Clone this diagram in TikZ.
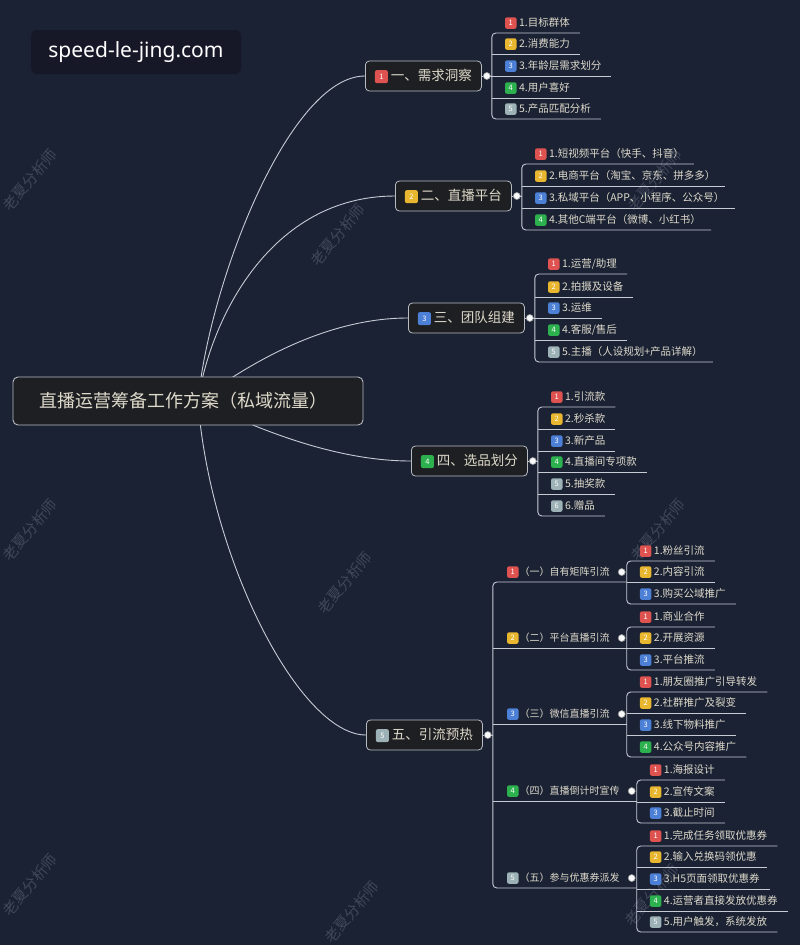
\documentclass[tikz,border=0pt]{standalone}
\usepackage{fontspec}
\setmainfont{Noto Sans CJK SC}
\newfontfamily\urlfont{Noto Sans}
\usetikzlibrary{positioning, calc}
\pgfdeclarelayer{bg}
\pgfsetlayers{bg,main}
\definecolor{navy}{HTML}{1B2234}
\definecolor{boxfill}{HTML}{1E1F22}
\definecolor{boxline}{HTML}{B7BCC4}
\definecolor{ink}{HTML}{DEDACB}
\definecolor{linkgray}{HTML}{C6CBD4}
\definecolor{urlbox}{HTML}{161828}
\definecolor{wmark}{HTML}{3F4759}
\definecolor{tagred}{HTML}{DE5350}
\definecolor{tagyel}{HTML}{E8B62F}
\definecolor{tagblu}{HTML}{4C80D6}
\definecolor{taggrn}{HTML}{2DB14E}
\definecolor{taggry}{HTML}{9DB2B6}

\tikzset{
  numtag/.style={fill=#1, rounded corners=2pt, inner sep=0pt, text=white,
                 font=\fontsize{7.5}{7.5}\selectfont},
  link/.style={draw=linkgray, line width=0.9pt},
  rootbox/.style={fill=boxfill, draw=boxline, line width=0.9pt, rounded corners=5pt,
                  text=ink, font=\fontsize{18}{20}\selectfont,
                  minimum width=350pt, minimum height=48pt},
  topicbox/.style={fill=boxfill, draw=boxline, line width=0.8pt, rounded corners=4pt,
                   text=ink, font=\fontsize{13.5}{15}\selectfont, anchor=west,
                   minimum height=30pt, inner xsep=9.5pt},
  leaf/.style={anchor=south west, text=ink, inner xsep=0pt, inner ysep=4pt,
               font=\fontsize{10.5}{12}\selectfont},
  subtopic/.style={leaf, font=\fontsize{10}{12}\selectfont},
  knob/.style={circle, fill=white!88!linkgray, draw=gray!80, line width=0.6pt,
               minimum size=7pt, inner sep=0pt},
  wmk/.style={text=wmark, rotate=50, font=\fontsize{15}{15}\selectfont}
}
\newcommand{\numtag}[3][11.5pt]{\tikz[baseline={([yshift=-3.6pt]t.center)}]
  \node[numtag=#2, minimum size=#1] (t) {#3};}
% leaf text: tag colour, number, text
\newcommand{\leafitem}[3]{\hspace*{13pt}\numtag{#1}{#2}\hspace{2.5pt}#3\hspace*{10pt}}
\newcommand{\branchitem}[3]{\hspace*{14pt}\numtag{#1}{#2}\hspace{1pt}#3\hspace*{17pt}}

\begin{document}
\begin{tikzpicture}[x=1pt, y=-1pt]
\useasboundingbox (0,0) rectangle (800,945);

% Site label
\node[fill=urlbox, rounded corners=6pt, minimum width=210pt, minimum height=44pt,
      font=\urlfont\fontsize{21}{21}\selectfont, text=white] (site) at (136,52) {speed-le-jing.com};

% Root
\node[rootbox] (root) at (188,401) {直播运营筹备工作方案（私域流量）\hspace*{10pt}};

% Main topics
\node[topicbox] (t1) at (365,76) {\numtag[13pt]{tagred}{1} 一、需求洞察};
\node[topicbox] (t2) at (395,196) {\numtag[13pt]{tagyel}{2} 二、直播平台};
\node[topicbox] (t3) at (408,318) {\numtag[13pt]{tagblu}{3} 三、团队组建};
\node[topicbox] (t4) at (411,461) {\numtag[13pt]{taggrn}{4} 四、选品划分};
\node[topicbox] (t5) at (366,735) {\numtag[13pt]{taggry}{5} 五、引流预热};

% Topic 1 leaves
\coordinate (v1) at ([xshift=10pt]t1.east);
\node[leaf] (a1) at (v1 |- 0,33) {\leafitem{tagred}{1}{1.目标群体}};
\node[leaf] (a2) at (v1 |- 0,54) {\leafitem{tagyel}{2}{2.消费能力}};
\node[leaf] (a3) at (v1 |- 0,76) {\leafitem{tagblu}{3}{3.年龄层需求划分}};
\node[leaf] (a4) at (v1 |- 0,98) {\leafitem{taggrn}{4}{4.用户喜好}};
\node[leaf] (a5) at (v1 |- 0,119) {\leafitem{taggry}{5}{5.产品匹配分析}};
\draw[link, rounded corners=4pt] (a1.south east) -- (a1.south west) -- (a5.south west) -- (a5.south east);
\draw[link] (a2.south west) -- (a2.south east) (a3.south west) -- (a3.south east)
  (a4.south west) -- (a4.south east);
\draw[link] (t1.east) -- (v1);
\node[knob] (k1) at ([xshift=5pt]t1.east) {};

% Topic 2 leaves
\coordinate (v2) at ([xshift=10pt]t2.east);
\node[leaf] (b1) at (v2 |- 0,164) {\leafitem{tagred}{1}{1.短视频平台（快手、抖音）}};
\node[leaf] (b2) at (v2 |- 0,186) {\leafitem{tagyel}{2}{2.电商平台（淘宝、京东、拼多多）}};
\node[leaf] (b3) at (v2 |- 0,208) {\leafitem{tagblu}{3}{3.私域平台（APP、小程序、公众号）}};
\node[leaf] (b4) at (v2 |- 0,230) {\leafitem{taggrn}{4}{4.其他C端平台（微博、小红书）}};
\draw[link, rounded corners=4pt] (b1.south east) -- (b1.south west) -- (b4.south west) -- (b4.south east);
\draw[link] (b2.south west) -- (b2.south east) (b3.south west) -- (b3.south east);
\draw[link] (t2.east) -- (v2);
\node[knob] (k2) at ([xshift=5pt]t2.east) {};

% Topic 3 leaves
\coordinate (v3) at ([xshift=10pt]t3.east);
\node[leaf] (c1) at (v3 |- 0,274) {\leafitem{tagred}{1}{1.运营/助理}};
\node[leaf] (c2) at (v3 |- 0,297) {\leafitem{tagyel}{2}{2.拍摄及设备}};
\node[leaf] (c3) at (v3 |- 0,318) {\leafitem{tagblu}{3}{3.运维}};
\node[leaf] (c4) at (v3 |- 0,340) {\leafitem{taggrn}{4}{4.客服/售后}};
\node[leaf] (c5) at (v3 |- 0,362) {\leafitem{taggry}{5}{5.主播（人设规划+产品详解）}};
\draw[link, rounded corners=4pt] (c1.south east) -- (c1.south west) -- (c5.south west) -- (c5.south east);
\draw[link] (c2.south west) -- (c2.south east) (c3.south west) -- (c3.south east)
  (c4.south west) -- (c4.south east);
\draw[link] (t3.east) -- (v3);
\node[knob] (k3) at ([xshift=5pt]t3.east) {};

% Topic 4 leaves
\coordinate (v4) at ([xshift=10pt]t4.east);
\node[leaf] (d1) at (v4 |- 0,407) {\leafitem{tagred}{1}{1.引流款}};
\node[leaf] (d2) at (v4 |- 0,429) {\leafitem{tagyel}{2}{2.秒杀款}};
\node[leaf] (d3) at (v4 |- 0,451) {\leafitem{tagblu}{3}{3.新产品}};
\node[leaf] (d4) at (v4 |- 0,472) {\leafitem{taggrn}{4}{4.直播间专项款}};
\node[leaf] (d5) at (v4 |- 0,494) {\leafitem{taggry}{5}{5.抽奖款}};
\node[leaf] (d6) at (v4 |- 0,516) {\leafitem{taggry}{6}{6.赠品}};
\draw[link, rounded corners=4pt] (d1.south east) -- (d1.south west) -- (d6.south west) -- (d6.south east);
\draw[link] (d2.south west) -- (d2.south east) (d3.south west) -- (d3.south east)
  (d4.south west) -- (d4.south east) (d5.south west) -- (d5.south east);
\draw[link] (t4.east) -- (v4);
\node[knob] (k4) at ([xshift=5pt]t4.east) {};

% Topic 5 subtopics
\coordinate (v5) at ([xshift=10pt]t5.east);
\node[subtopic] (e1) at (v5 |- 0,582) {\branchitem{tagred}{1}{（一）自有矩阵引流}};
\node[subtopic] (e2) at (v5 |- 0,648) {\branchitem{tagyel}{2}{（二）平台直播引流}};
\node[subtopic] (e3) at (v5 |- 0,724) {\branchitem{tagblu}{3}{（三）微信直播引流}};
\node[subtopic] (e4) at (v5 |- 0,801) {\branchitem{taggrn}{4}{（四）直播倒计时宣传}};
\node[subtopic] (e5) at (v5 |- 0,888) {\branchitem{taggry}{5}{（五）参与优惠券派发}};
\draw[link, rounded corners=4pt] (e1.south east) -- (e1.south west) -- (e5.south west) -- (e5.south east);
\draw[link] (e2.south west) -- (e2.south east) (e3.south west) -- (e3.south east)
  (e4.south west) -- (e4.south east);
\draw[link] (t5.east) -- (v5);
\node[knob] (k5) at ([xshift=5pt]t5.east) {};

% (一)
\node[leaf] (f11) at (e1.south east |- 0,561) {\leafitem{tagred}{1}{1.粉丝引流}};
\node[leaf] (f12) at (e1.south east |- 0,582) {\leafitem{tagyel}{2}{2.内容引流}};
\node[leaf] (f13) at (e1.south east |- 0,604) {\leafitem{tagblu}{3}{3.购买公域推广}};
\draw[link, rounded corners=4pt] (f11.south east) -- (f11.south west) -- (f13.south west) -- (f13.south east);
\draw[link] (f12.south west) -- (f12.south east);
\node[knob] (ke1) at ([xshift=-5pt]e1.east) {};

% (二)
\node[leaf] (f21) at (e2.south east |- 0,627) {\leafitem{tagred}{1}{1.商业合作}};
\node[leaf] (f22) at (e2.south east |- 0,648) {\leafitem{tagyel}{2}{2.开展资源}};
\node[leaf] (f23) at (e2.south east |- 0,670) {\leafitem{tagblu}{3}{3.平台推流}};
\draw[link, rounded corners=4pt] (f21.south east) -- (f21.south west) -- (f23.south west) -- (f23.south east);
\draw[link] (f22.south west) -- (f22.south east);
\node[knob] (ke2) at ([xshift=-5pt]e2.east) {};

% (三)
\node[leaf] (f31) at (e3.south east |- 0,692) {\leafitem{tagred}{1}{1.朋友圈推广引导转发}};
\node[leaf] (f32) at (e3.south east |- 0,713) {\leafitem{tagyel}{2}{2.社群推广及裂变}};
\node[leaf] (f33) at (e3.south east |- 0,735) {\leafitem{tagblu}{3}{3.线下物料推广}};
\node[leaf] (f34) at (e3.south east |- 0,757) {\leafitem{taggrn}{4}{4.公众号内容推广}};
\draw[link, rounded corners=4pt] (f31.south east) -- (f31.south west) -- (f34.south west) -- (f34.south east);
\draw[link] (f32.south west) -- (f32.south east) (f33.south west) -- (f33.south east);
\node[knob] (ke3) at ([xshift=-5pt]e3.east) {};

% (四)
\node[leaf] (f41) at (e4.south east |- 0,780) {\leafitem{tagred}{1}{1.海报设计}};
\node[leaf] (f42) at (e4.south east |- 0,802) {\leafitem{tagyel}{2}{2.宣传文案}};
\node[leaf] (f43) at (e4.south east |- 0,823) {\leafitem{tagblu}{3}{3.截止时间}};
\draw[link, rounded corners=4pt] (f41.south east) -- (f41.south west) -- (f43.south west) -- (f43.south east);
\draw[link] (f42.south west) -- (f42.south east);
\node[knob] (ke4) at ([xshift=-5pt]e4.east) {};

% (五)
\node[leaf] (f51) at (e5.south east |- 0,846) {\leafitem{tagred}{1}{1.完成任务领取优惠券}};
\node[leaf] (f52) at (e5.south east |- 0,867) {\leafitem{tagyel}{2}{2.输入兑换码领优惠}};
\node[leaf] (f53) at (e5.south east |- 0,889) {\leafitem{tagblu}{3}{3.H5页面领取优惠券}};
\node[leaf] (f54) at (e5.south east |- 0,911) {\leafitem{taggrn}{4}{4.运营者直接发放优惠券}};
\node[leaf] (f55) at (e5.south east |- 0,932) {\leafitem{taggry}{5}{5.用户触发，系统发放}};
\draw[link, rounded corners=4pt] (f51.south east) -- (f51.south west) -- (f55.south west) -- (f55.south east);
\draw[link] (f52.south west) -- (f52.south east) (f53.south west) -- (f53.south east)
  (f54.south west) -- (f54.south east);
\node[knob] (ke5) at ([xshift=-5pt]e5.east) {};

\begin{pgfonlayer}{bg}
% Background and watermarks
\fill[navy] (0,0) rectangle (800,945);
\node[wmk] (w1) at (30,180) {老夏分析师};
\node[wmk] (w2) at (338,235) {老夏分析师};
\node[wmk] (w3) at (655,180) {老夏分析师};
\node[wmk] (w4) at (30,530) {老夏分析师};
\node[wmk] (w5) at (345,583) {老夏分析师};
\node[wmk] (w6) at (658,530) {老夏分析师};
\node[wmk] (w7) at (30,885) {老夏分析师};
\node[wmk] (w8) at (352,912) {老夏分析师};
\node[wmk] (w9) at (652,895) {老夏分析师};

% Branches from root
\draw[link] ([xshift=10pt]root.center) .. controls +(12,-121) and +(-75,0) .. (t1.west);
\draw[link] ([xshift=10pt]root.center) .. controls +(12,-81) and +(-125,0) .. (t2.west);
\draw[link] ([xshift=10pt]root.center) .. controls +(42,-31) and +(-88,0) .. (t3.west);
\draw[link] ([xshift=10pt]root.center) .. controls +(52,24) and +(-81,0) .. (t4.west);
\draw[link] ([xshift=10pt]root.center) .. controls +(12,159) and +(-66,0) .. (t5.west);
\end{pgfonlayer}

\end{tikzpicture}
\end{document}
